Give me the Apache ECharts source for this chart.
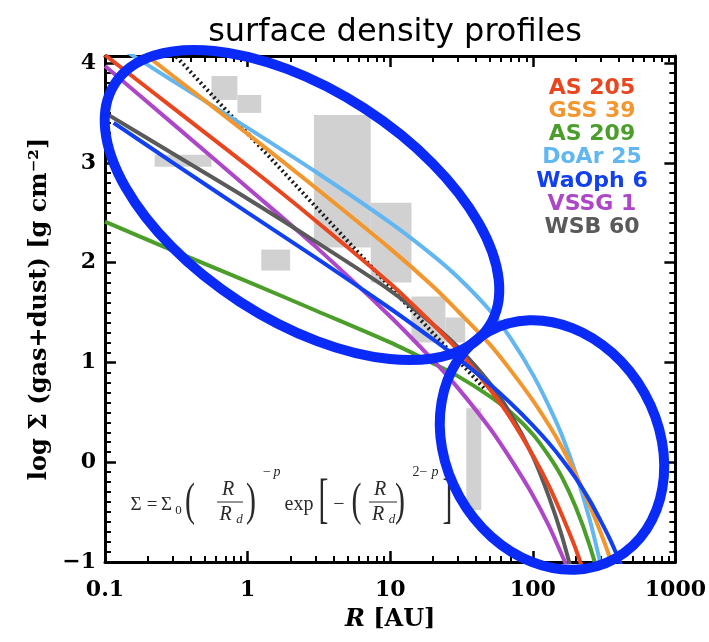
<!DOCTYPE html>
<html><head><meta charset="utf-8">
<script src="https://cdn.jsdelivr.net/npm/echarts@6/dist/echarts.min.js"></script>
<style>html,body{margin:0;padding:0;background:#fff}#c{width:709px;height:642px}</style>
</head><body><div id="c"></div>
<script>
// ---------------- data ----------------
const SERIES_NAMES  = ['AS 205', 'GSS 39', 'AS 209', 'DoAr 25', 'WaOph 6', 'VSSG 1', 'WSB 60'];
const SERIES_COLORS = ['#e9461f', '#f3962d', '#4b9e2a', '#62b6f2', '#1040f0', '#ad46c8', '#5a5a5a'];

// radius grid [AU]
const R_GRID   = [0.1, 0.3, 1, 3, 10, 20, 30, 50, 70, 100, 130, 160, 200, 250, 300, 350, 400, 450];
const R_WAOPH6 = [0.115, 0.3, 1, 3, 10, 20, 30, 50, 70, 100, 130, 160, 200, 250, 300, 350, 400, 450];

// log surface density values
const AS205  = [4.08, 3.55, 2.97, 2.42, 1.79, 1.38, 1.12, 0.73, 0.44, 0.07, -0.24, -0.53, -0.87, -1.28];
const GSS39  = [4.40, 3.87, 3.29, 2.75, 2.14, 1.76, 1.51, 1.18, 0.92, 0.62, 0.37, 0.15, -0.12, -0.43, -0.71, -0.97, -1.22];
const AS209  = [2.41, 2.12, 1.81, 1.52, 1.20, 0.99, 0.86, 0.66, 0.50, 0.28, 0.06, -0.15, -0.45, -0.83, -1.22];
const DOAR25 = [4.25, 3.82, 3.35, 2.91, 2.40, 2.07, 1.85, 1.52, 1.24, 0.88, 0.56, 0.27, -0.11, -0.57, -1.03];
const WAOPH6 = [3.40, 3.00, 2.50, 2.05, 1.54, 1.23, 1.04, 0.78, 0.59, 0.37, 0.19, 0.03, -0.16, -0.38, -0.59, -0.78, -0.97, -1.15];
const VSSG1  = [3.97, 3.39, 2.75, 2.16, 1.46, 1.02, 0.74, 0.34, 0.03, -0.33, -0.64, -0.93, -1.25];
const WSB60  = [3.50, 3.09, 2.64, 2.21, 1.72, 1.38, 1.15, 0.79, 0.48, 0.06, -0.35, -0.74, -1.25];

// dotted reference line (minimum-mass nebula)
const MMSN_R = [0.3, 47];
const MMSN_V = [4.10, 0.72];

// grey background blocks
const BLOCK_R_LO = [0.223, 0.558, 0.848, 1.247, 2.92, 7.31, 14.1, 24.4, 34.2];
const BLOCK_R_HI = [0.558, 0.848, 1.247, 1.988, 7.31, 14.1, 24.4, 33.6, 43.5];
const BLOCK_V_LO = [2.96, 3.63, 3.50, 1.92, 2.15, 1.80, 1.20, 1.20, -0.48];
const BLOCK_V_HI = [3.08, 3.87, 3.68, 2.13, 3.48, 2.60, 1.66, 1.45, 0.54];

// axes
const X_TICKS = [0.1, 1, 10, 100, 1000];
const X_TICK_LABELS = ['0.1', '1', '10', '100', '1000'];
const X_MINOR = [0.2,0.3,0.4,0.5,0.6,0.7,0.8,0.9, 2,3,4,5,6,7,8,9, 20,30,40,50,60,70,80,90, 200,300,400,500,600,700,800,900];
const Y_TICKS = [-1, 0, 1, 2, 3, 4];
const Y_TICK_LABELS = ['\u22121', '0', '1', '2', '3', '4'];
const Y_MIN = -1, Y_MAX = 4.07;

// ---------------- chart ----------------
const chart = echarts.init(document.getElementById('c'), null, {renderer: 'canvas', width: 709, height: 642});

const CURVE_R = [R_GRID, R_GRID, R_GRID, R_GRID, R_WAOPH6, R_GRID, R_GRID];
const CURVE_V = [AS205, GSS39, AS209, DOAR25, WAOPH6, VSSG1, WSB60];
const DRAW_ORDER = [3, 1, 2, 5, 6, 0, 4];

const pair = (rs, vs) => vs.map((v, i) => [rs[i], v]);

const series = [];
series.push({
  type: 'custom', name: 'blocks', xAxisIndex: 0, yAxisIndex: 0, z: 1, silent: true,
  data: BLOCK_R_LO.map((r, i) => [r, BLOCK_R_HI[i], BLOCK_V_LO[i], BLOCK_V_HI[i]]),
  encode: {x: [0, 1], y: [2, 3]},
  renderItem: (params, api) => {
    const p0 = api.coord([api.value(0), api.value(3)]);
    const p1 = api.coord([api.value(1), api.value(2)]);
    return {type: 'rect', shape: {x: p0[0], y: p0[1], width: p1[0] - p0[0], height: p1[1] - p0[1]},
            style: {fill: '#d1d1d1'}};
  }
});
series.push({
  type: 'line', name: 'MMSN', xAxisIndex: 0, yAxisIndex: 0, z: 3, symbol: 'none',
  data: pair(MMSN_R, MMSN_V),
  lineStyle: {color: '#1a1a1a', width: 4, type: [2, 3], cap: 'butt'}
});
DRAW_ORDER.forEach((k) => {
  series.push({
    type: 'line', name: SERIES_NAMES[k], xAxisIndex: 0, yAxisIndex: 0, z: 4,
    symbol: 'none', smooth: 0.3,
    data: pair(CURVE_R[k], CURVE_V[k]),
    lineStyle: {color: SERIES_COLORS[k], width: 4}
  });
});

const tickFont = {fontFamily: 'DejaVu Serif', fontWeight: 'bold', fontSize: 22, color: '#000'};
const axisLine = {show: true, onZero: false, lineStyle: {color: '#000', width: 3}};
const majorTick = {show: true, inside: true, length: 11, lineStyle: {color: '#000', width: 2.5}};
const minorX = {show: true, inside: true, length: 6, customValues: X_MINOR, lineStyle: {color: '#000', width: 2}};

const xBase = {type: 'log', logBase: 10, min: 0.1, max: 1000, splitLine: {show: false}, gridIndex: 0};

const xAxis = [
  Object.assign({}, xBase, {
    position: 'bottom', axisLine, axisTick: majorTick,
    axisLabel: Object.assign({show: true, margin: 17,
      formatter: (v, i) => X_TICK_LABELS[i] !== undefined ? X_TICK_LABELS[i] : ''}, tickFont),
    name: '{i|R} [AU]', nameLocation: 'middle', nameGap: 46,
    nameTextStyle: {fontFamily: 'DejaVu Serif', fontWeight: 'bold', fontSize: 24, color: '#000',
      rich: {i: {fontFamily: 'DejaVu Serif', fontWeight: 'bold', fontStyle: 'italic', fontSize: 24, color: '#000'}}}
  }),
  Object.assign({}, xBase, {position: 'top', axisLine, axisTick: majorTick, axisLabel: {show: false}}),
  // minor decade ticks: anchored (onZero) to hidden helper y axes whose zero sits on the frame edge
  Object.assign({}, xBase, {position: 'bottom', axisLine: {show: false, onZero: true, onZeroAxisIndex: 2},
    axisTick: minorX, axisLabel: {show: false}}),
  Object.assign({}, xBase, {position: 'top', axisLine: {show: false, onZero: true, onZeroAxisIndex: 3},
    axisTick: minorX, axisLabel: {show: false}})
];

const yBase = {type: 'value', min: Y_MIN, max: Y_MAX, interval: 1, splitLine: {show: false}, gridIndex: 0,
  axisLine, axisTick: majorTick,
  minorTick: {show: true, splitNumber: 10, length: 6, lineStyle: {color: '#000', width: 2}}};

const yAxis = [
  Object.assign({}, yBase, {
    position: 'left',
    axisLabel: Object.assign({show: true, margin: 9, showMaxLabel: false,
      formatter: (v) => { const i = Y_TICKS.indexOf(Math.round(v * 100) / 100); return i >= 0 ? Y_TICK_LABELS[i] : ''; }}, tickFont),
    name: 'log \u03A3 (gas+dust) [g cm\u207B\u00B2]', nameLocation: 'middle', nameRotate: 90, nameGap: 50,
    nameTextStyle: {fontFamily: 'DejaVu Serif', fontWeight: 'bold', fontSize: 24, color: '#000'}
  }),
  Object.assign({}, yBase, {position: 'right', axisLabel: {show: false}}),
  {type: 'value', gridIndex: 0, min: 0, max: 1, show: false},
  {type: 'value', gridIndex: 0, min: -1, max: 0, show: false}
];

// ---------- graphic: legend text, formula, ellipses ----------
const graphic = [];
const LEG_X = 592, LEG_Y0 = 88, LEG_DY = 23.2;
SERIES_NAMES.forEach((n, i) => {
  graphic.push({type: 'text', x: LEG_X, y: LEG_Y0 + i * LEG_DY, z: 50,
    style: {text: n, fill: SERIES_COLORS[i], fontFamily: 'DejaVu Sans', fontWeight: 'bold', fontSize: 22,
      align: 'center', verticalAlign: 'middle'}});
});

const FF = 'Liberation Serif', FC = '#2a2a2a';
function ftext(t, x, y, size, italic, sx) {
  graphic.push({type: 'text', x: x, y: y, z: 50, scaleX: sx || 1,
    style: {text: t, fill: FC, fontFamily: FF, fontSize: size, fontStyle: italic ? 'italic' : 'normal',
      align: 'center', verticalAlign: 'middle'}});
}
function fbar(x1, x2, y) {
  graphic.push({type: 'line', z: 50, shape: {x1: x1, y1: y, x2: x2, y2: y}, style: {stroke: FC, lineWidth: 1}});
}
ftext('\u03A3', 136, 505, 19);
ftext('=', 152, 505, 19);
ftext('\u03A3', 166.5, 505, 19);
ftext('0', 178.5, 511, 13);
ftext('(', 190, 503, 46, false, 0.65);
ftext('R', 228, 490, 20, true);
fbar(217, 243, 502);
ftext('R', 225.5, 515, 20, true);
ftext('d', 239.5, 520, 13, true);
ftext(')', 251, 503, 46, false, 0.65);
ftext('\u2212', 267, 472, 14);
ftext('p', 277, 472, 14, true);
ftext('exp', 299, 505, 20);
ftext('[', 323.5, 503, 54, false, 0.55);
ftext('\u2212', 339, 505, 20);
ftext('(', 356.5, 503, 46, false, 0.65);
ftext('R', 380, 490, 20, true);
fbar(369, 397, 502);
ftext('R', 378, 515, 20, true);
ftext('d', 392, 520, 13, true);
ftext(')', 400, 503, 46, false, 0.65);
ftext('2\u2212', 420, 472, 14);
ftext('p', 435, 472, 14, true);
ftext(']', 447.5, 503, 54, false, 0.55);

const ELL_COLOR = '#0a2bf7';
graphic.push({type: 'ellipse', x: 302, y: 205, rotation: -33 * Math.PI / 180, z: 60,
  shape: {cx: 0, cy: 0, rx: 223, ry: 115}, style: {fill: 'none', stroke: ELL_COLOR, lineWidth: 10}});
graphic.push({type: 'ellipse', x: 552, y: 445, rotation: -60.7 * Math.PI / 180, z: 60,
  shape: {cx: 0, cy: 0, rx: 130, ry: 106}, style: {fill: 'none', stroke: ELL_COLOR, lineWidth: 10}});

chart.setOption({
  animation: false,
  backgroundColor: '#fff',
  title: {text: 'surface density profiles', left: 390, top: 12, textAlign: 'center',
    textStyle: {fontFamily: 'DejaVu Sans', fontWeight: 'normal', fontSize: 32, color: '#000'}},
  grid: {left: 105, right: 31, top: 56, bottom: 80, containLabel: false},
  xAxis: xAxis,
  yAxis: yAxis,
  series: series,
  graphic: graphic
});
</script></body></html>
